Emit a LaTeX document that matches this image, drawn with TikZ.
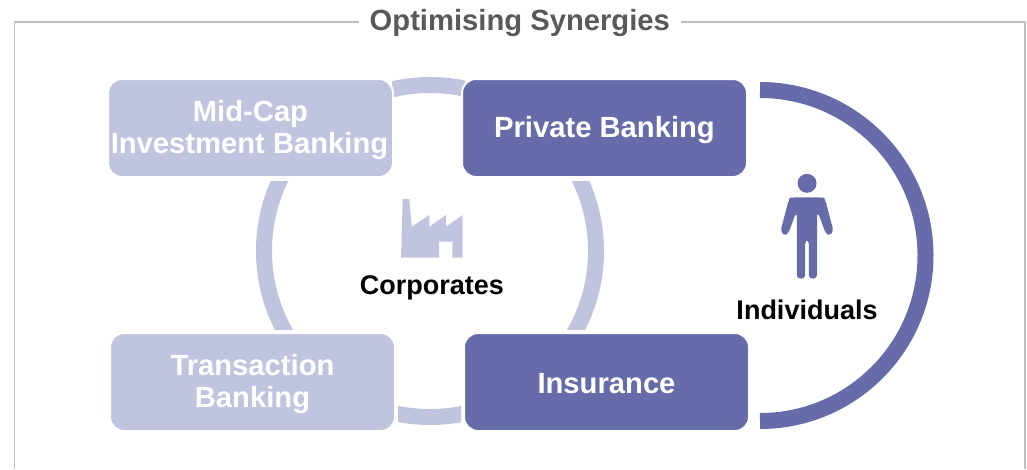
\documentclass[tikz,border=0pt]{standalone}
\usepackage{fontspec}
\setmainfont{Liberation Sans}
\definecolor{darkb}{HTML}{666CA9}
\definecolor{lightb}{HTML}{C0C4DE}
\definecolor{framec}{HTML}{BFBFBF}
\definecolor{titlec}{HTML}{595959}
\newcommand\lowr[1]{\raisebox{-2pt}[\height][\depth]{#1}}
\newcommand\lowo[1]{\raisebox{-1.2pt}[\height][\depth]{#1}}
\tikzset{
  box/.style={rounded corners=14pt,minimum width=285pt,minimum height=98pt,inner sep=0pt,align=center,text=white,draw=white,line width=2pt,font=\fontsize{29.2}{32}\selectfont\bfseries},
  lbl/.style={inner sep=0pt,font=\fontsize{27}{30}\selectfont\bfseries,text=black},
  ringst/.style={draw=lightb,line width=16pt}
}
\begin{document}
\begin{tikzpicture}[x=1pt,y=-1pt]
\useasboundingbox (0,0) rectangle (1027,469);
% frame
\coordinate (fbl) at (14.5,469);
\coordinate (ftl) at (14.5,22);
\coordinate (ftr) at (1025,22);
\coordinate (fbr) at (1025,469);
\draw[framec,line width=1.2pt] (fbl) -- (ftl) -- (ftr) -- (fbr);
\node[fill=white,minimum width=322pt,minimum height=20pt,inner sep=0pt,text=titlec,font=\fontsize{29.2}{32}\selectfont\bfseries] (title) at (519.8,23.5) {Optimising Synergies};
% ring
\coordinate (cc) at (430,251);
\begin{scope}
\clip (392,60) rectangle (465,100);
\draw[ringst] (cc) circle[radius=166];
\end{scope}
\begin{scope}
\clip (398,400) rectangle (461,440);
\draw[ringst] (cc) circle[radius=166];
\end{scope}
\begin{scope}
\clip (240,181) rectangle (620,329);
\draw[ringst] (cc) circle[radius=166];
\end{scope}
% right arc
\coordinate (as) at (760,90);
\draw[darkb,line width=16pt] (as) arc[start angle=-90,end angle=90,radius=165.5];
% boxes
\node[box,fill=lightb] (midcap) at (250.5,128) {\lowr{Mid-Cap}\\\hspace*{-2pt}\lowr{Investment Banking}};
\node[box,fill=darkb] (private) at (604.5,128) {\lowr{Private Banking}};
\node[box,fill=lightb] (trans) at (252.5,382) {\lowr{Transaction}\\\lowr{Banking}};
\node[box,fill=darkb] (insur) at (606.5,382) {\lowo{Insurance}};
% factory
\fill[lightb] (401,257.7) -- (402.7,199) -- (409.3,199) -- (411.7,226.7) -- (429.3,215) -- (429.3,226.7) -- (446,215) -- (446,226.7) -- (462.7,215) -- (462.7,257.7) -- (452.3,257.7) -- (452.3,241.7) -- (439,241.7) -- (439,257.7) -- cycle;
\node[lbl] (corp) at (432,287.5) {Corporates};
% person
\fill[darkb] (807,183.3) circle[radius=9.5];
\begin{scope}[rounded corners=3.5pt]
\fill[darkb] (791,197.3) -- (823,197.3) -- (825,199) -- (833.5,231) -- (829.5,236) -- (825.5,233) -- (818,212.5) -- (817,212.5) -- (817,278.5) -- (808.8,278.5) -- (808.8,240) -- (805.2,240) -- (805.2,278.5) -- (796.8,278.5) -- (796.8,212.5) -- (796,212.5) -- (788.5,233) -- (784.5,236) -- (780.5,231) -- (789,199) -- cycle;
\end{scope}
\node[lbl] (indiv) at (807,310) {Individuals};
\end{tikzpicture}
\end{document}
